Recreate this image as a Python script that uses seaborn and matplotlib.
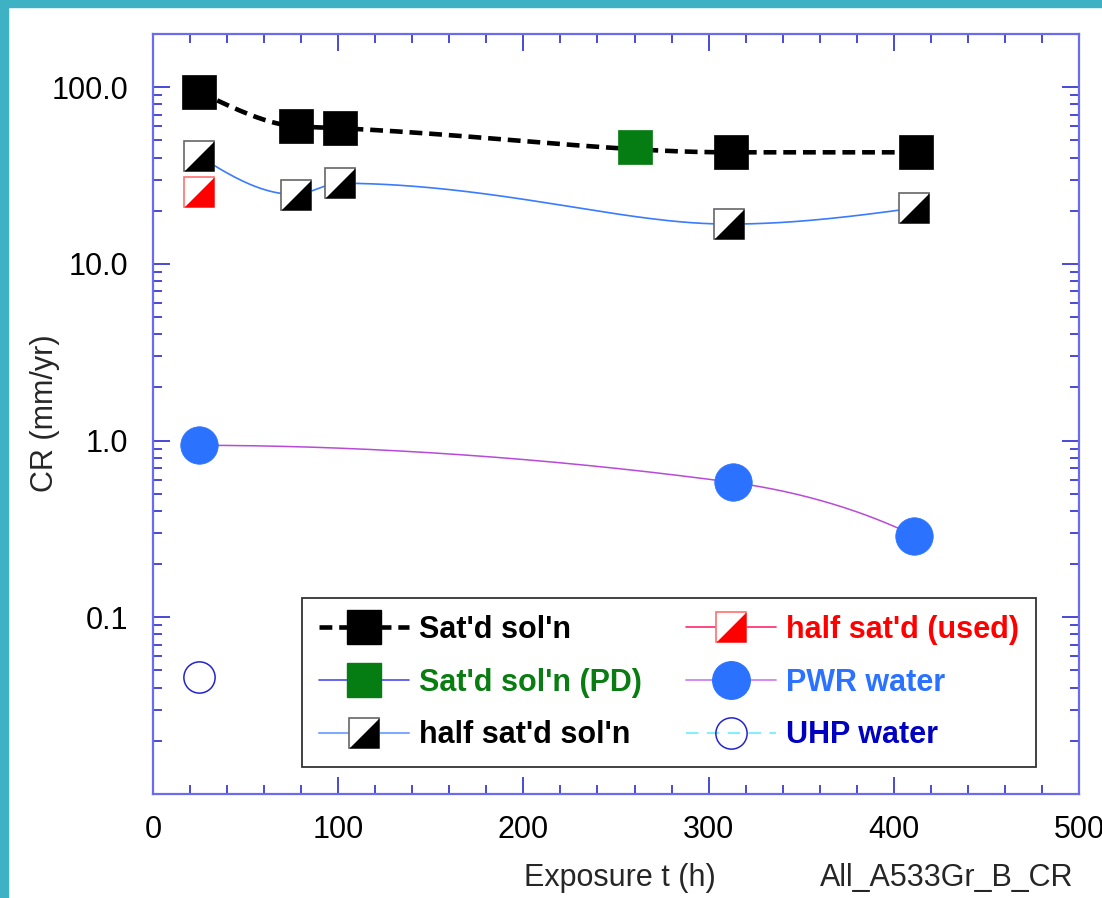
import numpy as np
import pandas as pd
import matplotlib
matplotlib.use("Agg")
import matplotlib.pyplot as plt
import seaborn as sns
from matplotlib.lines import Line2D
from matplotlib.patches import Rectangle
from matplotlib.path import Path
from matplotlib.ticker import FixedLocator, FixedFormatter, MultipleLocator

# ---- data: corrosion rate (mm/yr) vs exposure time (h) ----
sat_t = [25, 77, 101, 312, 412]
sat_cr = [93.7, 60.1, 58.6, 42.8, 42.8]

sat_pd_t = [260]
sat_pd_cr = [45.7]

half_t = [25, 77, 101, 311, 411]
half_cr = [40.7, 24.7, 28.6, 16.8, 20.7]

half_used_t = [25]
half_used_cr = [25.5]

pwr_t = [25, 313, 411]
pwr_cr = [0.94, 0.58, 0.29]

uhp_t = [25]
uhp_cr = [0.046]

x_ticks = [0, 100, 200, 300, 400, 500]
y_ticks = [0.1, 1.0, 10.0, 100.0]
y_tick_labels = ["0.1", "1.0", "10.0", "100.0"]

# ---- styling ----
TEAL = "#3fb1c5"
AXIS_BLUE = "#6b6bef"
TICK_BLUE = "#2a2ad0"
FS = 22

sns.set_theme(style="white")
plt.rcParams["font.family"] = ["Liberation Sans", "DejaVu Sans"]
plt.rcParams["axes.unicode_minus"] = False


def smooth_curve(x, y, n=300):
    """Shape-preserving (PCHIP) cubic through the points, in data units."""
    x = np.asarray(x, float)
    yv = np.asarray(y, float)
    m = len(x)
    h = np.diff(x)
    d = np.diff(yv) / h
    t = np.zeros(m)
    for k in range(1, m - 1):
        if d[k - 1] * d[k] > 0:
            w1 = 2 * h[k] + h[k - 1]
            w2 = h[k] + 2 * h[k - 1]
            t[k] = (w1 + w2) / (w1 / d[k - 1] + w2 / d[k])

    def end_slope(h0, h1, d0, d1):
        s = ((2 * h0 + h1) * d0 - h0 * d1) / (h0 + h1)
        if np.sign(s) != np.sign(d0):
            return 0.0
        if np.sign(d0) != np.sign(d1) and abs(s) > abs(3 * d0):
            return 3 * d0
        return s

    t[0] = end_slope(h[0], h[1], d[0], d[1])
    t[-1] = end_slope(h[-1], h[-2], d[-1], d[-2])
    xs = np.linspace(x[0], x[-1], n)
    k = np.clip(np.searchsorted(x, xs) - 1, 0, m - 2)
    s = (xs - x[k]) / h[k]
    h00 = 2 * s ** 3 - 3 * s ** 2 + 1
    h10 = s ** 3 - 2 * s ** 2 + s
    h01 = -2 * s ** 3 + 3 * s ** 2
    h11 = s ** 3 - s ** 2
    ys = h00 * yv[k] + h10 * h[k] * t[k] + h01 * yv[k + 1] + h11 * h[k] * t[k + 1]
    return pd.DataFrame({"t": xs, "cr": ys})


# diagonal half-filled square: lower-right triangle
TRI = Path([(-1, -1), (1, -1), (1, 1), (-1, -1)],
           [Path.MOVETO, Path.LINETO, Path.LINETO, Path.CLOSEPOLY])

fig = plt.figure(figsize=(11.02, 8.98), dpi=100)
fig.patch.set_facecolor("white")
ax = fig.add_axes([153 / 1102, 1 - 794 / 898, 926 / 1102, 760 / 898])
ax.set_yscale("log")
ax.set_xlim(0, 500)
ax.set_ylim(0.01, 200)

# frame strips
fig.patches.append(Rectangle((0, 0), 8 / 1102, 1, transform=fig.transFigure,
                             color=TEAL, zorder=0))
fig.patches.append(Rectangle((0, 1 - 7 / 898), 1, 7 / 898, transform=fig.transFigure,
                             color=TEAL, zorder=0))

# smoothed connecting curves
sns.lineplot(data=smooth_curve(sat_t, sat_cr), x="t", y="cr", ax=ax, color="black",
             linewidth=3.3, linestyle=(0, (2.8, 1.5)), estimator=None, sort=False,
             zorder=2)
sns.lineplot(data=smooth_curve(half_t, half_cr), x="t", y="cr", ax=ax, color="#3a7bff",
             linewidth=1.2, estimator=None, sort=False, zorder=2)
sns.lineplot(data=smooth_curve(pwr_t, pwr_cr), x="t", y="cr", ax=ax, color="#b84ad8",
             linewidth=1.1, estimator=None, sort=False, zorder=2)

# markers
ax.plot(sat_t, sat_cr, ls="none", marker="s", ms=24, mfc="black", mec="black",
        mew=0.5, zorder=4)
ax.plot(sat_pd_t, sat_pd_cr, ls="none", marker="s", ms=24, mfc="#067d12",
        mec="#067d12", mew=0.5, zorder=4)
ax.plot(half_t, half_cr, ls="none", marker="s", ms=22, mfc="white", mec="#666666",
        mew=1.2, zorder=4)
ax.plot(half_t, half_cr, ls="none", marker=TRI, ms=21, mfc="black", mec="none", zorder=5)
ax.plot(half_used_t, half_used_cr, ls="none", marker="s", ms=22, mfc="white",
        mec="#ff7070", mew=1.2, zorder=4)
ax.plot(half_used_t, half_used_cr, ls="none", marker=TRI, ms=21, mfc="#ff0000",
        mec="none", zorder=5)
ax.plot(pwr_t, pwr_cr, ls="none", marker="o", ms=27, mfc="#2a72ff", mec="#2a72ff",
        mew=0.5, zorder=4)
ax.plot(uhp_t, uhp_cr, ls="none", marker="o", ms=22.5, mfc="white", mec="#2424cc",
        mew=1.1, zorder=4)

# axes, ticks
for s in ax.spines.values():
    s.set_color(AXIS_BLUE)
    s.set_linewidth(1.6)
ax.xaxis.set_major_locator(FixedLocator(x_ticks))
ax.xaxis.set_minor_locator(MultipleLocator(20))
ax.yaxis.set_major_locator(FixedLocator(y_ticks))
ax.yaxis.set_major_formatter(FixedFormatter(y_tick_labels))
minor_y = [m * 10.0 ** e for e in range(-2, 3) for m in range(2, 10)]
ax.yaxis.set_minor_locator(FixedLocator(minor_y))
ax.yaxis.set_minor_formatter(FixedFormatter([""] * len(minor_y)))
ax.tick_params(which="both", direction="in", top=True, right=True, bottom=True,
               left=True, color=TICK_BLUE, width=1.2)
ax.tick_params(which="major", length=12.5)
ax.tick_params(which="minor", length=6.5)
ax.tick_params(axis="x", which="major", labelsize=FS, pad=15)
ax.tick_params(axis="y", which="major", labelsize=FS, pad=18)
for lab in ax.get_xticklabels() + ax.get_yticklabels():
    lab.set_color("black")

ax.set_xlabel("Exposure t (h)", fontsize=FS)
ax.set_ylabel("CR (mm/yr)", fontsize=FS)
ax.xaxis.set_label_coords((620 - 153) / 926, (794 - 878) / 760)
ax.xaxis.label.set_va("center")
ax.yaxis.set_label_coords((45 - 153) / 926, (794 - 413) / 760)
ax.yaxis.label.set_va("center")
fig.text(947 / 1102, 1 - 878 / 898, "All_A533Gr_B_CR", fontsize=FS,
         ha="center", va="center")

# legend
h_sat = Line2D([], [], color="black", lw=3.3, ls=(0, (2.8, 1.5)), marker="s", ms=24,
               mfc="black", mec="black")
h_pd = Line2D([], [], color="#4a4aee", lw=1.2, marker="s", ms=24, mfc="#067d12",
              mec="#067d12")
h_half = (Line2D([], [], color="#80aaff", lw=1.5, marker="s", ms=22, mfc="white",
                 mec="#666666", mew=1.2),
          Line2D([], [], ls="none", marker=TRI, ms=21, mfc="black", mec="none"))
h_used = (Line2D([], [], color="#ff2a6a", lw=1.2, marker="s", ms=22, mfc="white",
                 mec="#ff7070", mew=1.2),
          Line2D([], [], ls="none", marker=TRI, ms=21, mfc="#ff0000", mec="none"))
h_pwr = Line2D([], [], color="#cc77ee", lw=1.2, marker="o", ms=27, mfc="#2a72ff",
               mec="#2a72ff")
h_uhp = Line2D([], [], color="#88eeff", lw=1.5, ls=(0, (6, 4)), marker="o", ms=22.5,
               mfc="none", mec="#2424cc", mew=1.1)

labels = ["Sat'd sol'n", "Sat'd sol'n (PD)", "half sat'd sol'n",
          "half sat'd (used)", "PWR water", "UHP water"]
colors = ["black", "#0a7d12", "black", "#ff0000", "#2a72ff", "#0000c0"]
leg = ax.legend([h_sat, h_pd, h_half, h_used, h_pwr, h_uhp], labels, ncol=2,
                loc="upper left", bbox_to_anchor=(302 / 1102, 1 - 598 / 898),
                bbox_transform=fig.transFigure, borderaxespad=0,
                prop={"family": ["Liberation Sans", "DejaVu Sans"], "weight": "bold",
                      "size": FS},
                handlelength=2.94, handletextpad=0.33, columnspacing=1.45,
                borderpad=0.56, labelspacing=0.74, fancybox=False, framealpha=1,
                edgecolor="#333333")
leg.get_frame().set_linewidth(1.3)
leg.set_zorder(10)
for txt, c in zip(leg.get_texts(), colors):
    txt.set_color(c)

fig.savefig("out.png", dpi=100, facecolor="white")
